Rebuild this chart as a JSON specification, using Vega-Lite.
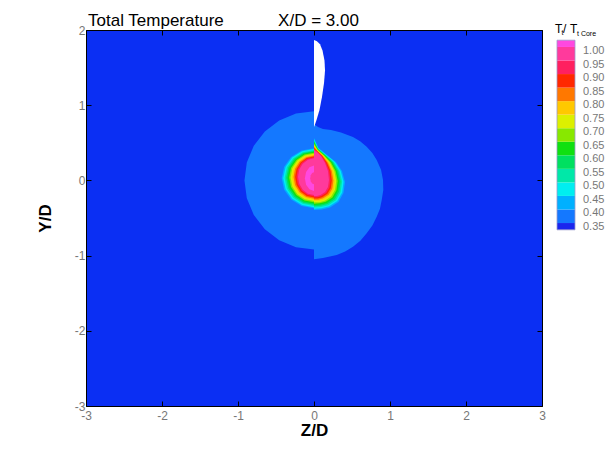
{
"$schema": "https://vega.github.io/schema/vega-lite/v6.json",
"width": 456, "height": 376,
"autosize": {"type": "none"},
"padding": {"left": 86, "top": 30, "right": 69, "bottom": 47},
"background": "#ffffff",
"title": {"text": "Total Temperature", "anchor": "start", "frame": "group", "dx": 2, "offset": -19, "fontSize": 17, "fontWeight": "normal", "font": "Liberation Sans", "color": "#000"},
"datasets": {
"contours": [
{"p":"p01","b":"0.35","i":0,"z":0,"y":0.92},{"p":"p01","b":"0.35","i":1,"z":-0.237,"y":0.889},{"p":"p01","b":"0.35","i":2,"z":-0.458,"y":0.797},{"p":"p01","b":"0.35","i":3,"z":-0.647,"y":0.651},{"p":"p01","b":"0.35","i":4,"z":-0.792,"y":0.46},{"p":"p01","b":"0.35","i":5,"z":-0.884,"y":0.238},{"p":"p01","b":"0.35","i":6,"z":-0.915,"y":0},{"p":"p01","b":"0.35","i":7,"z":-0.884,"y":-0.238},{"p":"p01","b":"0.35","i":8,"z":-0.792,"y":-0.46},{"p":"p01","b":"0.35","i":9,"z":-0.647,"y":-0.651},{"p":"p01","b":"0.35","i":10,"z":-0.458,"y":-0.797},{"p":"p01","b":"0.35","i":11,"z":-0.237,"y":-0.889},{"p":"p01","b":"0.35","i":12,"z":0,"y":-0.92},{"p":"p01","b":"0.35","i":13,"z":0,"y":-1.049},{"p":"p01","b":"0.35","i":14,"z":0.118,"y":-1.032},{"p":"p01","b":"0.35","i":15,"z":0.299,"y":-0.992},{"p":"p01","b":"0.35","i":16,"z":0.41,"y":-0.947},{"p":"p01","b":"0.35","i":17,"z":0.513,"y":-0.882},{"p":"p01","b":"0.35","i":18,"z":0.61,"y":-0.802},{"p":"p01","b":"0.35","i":19,"z":0.693,"y":-0.703},{"p":"p01","b":"0.35","i":20,"z":0.768,"y":-0.6},{"p":"p01","b":"0.35","i":21,"z":0.825,"y":-0.483},{"p":"p01","b":"0.35","i":22,"z":0.868,"y":-0.376},{"p":"p01","b":"0.35","i":23,"z":0.891,"y":-0.261},{"p":"p01","b":"0.35","i":24,"z":0.912,"y":-0.128},{"p":"p01","b":"0.35","i":25,"z":0.908,"y":0.005},{"p":"p01","b":"0.35","i":26,"z":0.882,"y":0.142},{"p":"p01","b":"0.35","i":27,"z":0.825,"y":0.271},{"p":"p01","b":"0.35","i":28,"z":0.768,"y":0.366},{"p":"p01","b":"0.35","i":29,"z":0.693,"y":0.448},{"p":"p01","b":"0.35","i":30,"z":0.607,"y":0.522},{"p":"p01","b":"0.35","i":31,"z":0.513,"y":0.577},{"p":"p01","b":"0.35","i":32,"z":0.355,"y":0.637},{"p":"p01","b":"0.35","i":33,"z":0.224,"y":0.67},{"p":"p01","b":"0.35","i":34,"z":0.118,"y":0.684},{"p":"p01","b":"0.35","i":35,"z":0.053,"y":0.71},{"p":"p01","b":"0.35","i":36,"z":0,"y":0.75},

{"p":"p02","b":"0.40","i":0,"z":0,"y":0.428},{"p":"p02","b":"0.40","i":1,"z":-0.163,"y":0.398},{"p":"p02","b":"0.40","i":2,"z":-0.301,"y":0.311},{"p":"p02","b":"0.40","i":3,"z":-0.393,"y":0.181},{"p":"p02","b":"0.40","i":4,"z":-0.425,"y":0.028},{"p":"p02","b":"0.40","i":5,"z":-0.393,"y":-0.125},{"p":"p02","b":"0.40","i":6,"z":-0.301,"y":-0.255},{"p":"p02","b":"0.40","i":7,"z":-0.163,"y":-0.342},{"p":"p02","b":"0.40","i":8,"z":0,"y":-0.372},{"p":"p02","b":"0.40","i":9,"z":0,"y":-0.394},{"p":"p02","b":"0.40","i":10,"z":0.105,"y":-0.387},{"p":"p02","b":"0.40","i":11,"z":0.211,"y":-0.36},{"p":"p02","b":"0.40","i":12,"z":0.322,"y":-0.287},{"p":"p02","b":"0.40","i":13,"z":0.388,"y":-0.168},{"p":"p02","b":"0.40","i":14,"z":0.408,"y":-0.021},{"p":"p02","b":"0.40","i":15,"z":0.368,"y":0.125},{"p":"p02","b":"0.40","i":16,"z":0.289,"y":0.245},{"p":"p02","b":"0.40","i":17,"z":0.171,"y":0.338},{"p":"p02","b":"0.40","i":18,"z":0.059,"y":0.431},{"p":"p02","b":"0.40","i":19,"z":0,"y":0.564},

{"p":"p03","b":"0.45","i":0,"z":0,"y":0.416},{"p":"p03","b":"0.45","i":1,"z":-0.155,"y":0.387},{"p":"p03","b":"0.45","i":2,"z":-0.286,"y":0.303},{"p":"p03","b":"0.45","i":3,"z":-0.374,"y":0.178},{"p":"p03","b":"0.45","i":4,"z":-0.405,"y":0.03},{"p":"p03","b":"0.45","i":5,"z":-0.374,"y":-0.118},{"p":"p03","b":"0.45","i":6,"z":-0.286,"y":-0.243},{"p":"p03","b":"0.45","i":7,"z":-0.155,"y":-0.327},{"p":"p03","b":"0.45","i":8,"z":0,"y":-0.356},{"p":"p03","b":"0.45","i":9,"z":0,"y":-0.377},{"p":"p03","b":"0.45","i":10,"z":0.099,"y":-0.371},{"p":"p03","b":"0.45","i":11,"z":0.2,"y":-0.345},{"p":"p03","b":"0.45","i":12,"z":0.306,"y":-0.275},{"p":"p03","b":"0.45","i":13,"z":0.37,"y":-0.161},{"p":"p03","b":"0.45","i":14,"z":0.389,"y":-0.019},{"p":"p03","b":"0.45","i":15,"z":0.351,"y":0.125},{"p":"p03","b":"0.45","i":16,"z":0.276,"y":0.244},{"p":"p03","b":"0.45","i":17,"z":0.164,"y":0.337},{"p":"p03","b":"0.45","i":18,"z":0.057,"y":0.426},{"p":"p03","b":"0.45","i":19,"z":0,"y":0.549},

{"p":"p04","b":"0.50","i":0,"z":0,"y":0.404},{"p":"p04","b":"0.50","i":1,"z":-0.148,"y":0.376},{"p":"p04","b":"0.50","i":2,"z":-0.273,"y":0.295},{"p":"p04","b":"0.50","i":3,"z":-0.357,"y":0.174},{"p":"p04","b":"0.50","i":4,"z":-0.386,"y":0.032},{"p":"p04","b":"0.50","i":5,"z":-0.357,"y":-0.11},{"p":"p04","b":"0.50","i":6,"z":-0.273,"y":-0.231},{"p":"p04","b":"0.50","i":7,"z":-0.148,"y":-0.312},{"p":"p04","b":"0.50","i":8,"z":0,"y":-0.34},{"p":"p04","b":"0.50","i":9,"z":0,"y":-0.36},{"p":"p04","b":"0.50","i":10,"z":0.093,"y":-0.354},{"p":"p04","b":"0.50","i":11,"z":0.188,"y":-0.33},{"p":"p04","b":"0.50","i":12,"z":0.29,"y":-0.263},{"p":"p04","b":"0.50","i":13,"z":0.351,"y":-0.153},{"p":"p04","b":"0.50","i":14,"z":0.37,"y":-0.016},{"p":"p04","b":"0.50","i":15,"z":0.335,"y":0.125},{"p":"p04","b":"0.50","i":16,"z":0.263,"y":0.242},{"p":"p04","b":"0.50","i":17,"z":0.157,"y":0.335},{"p":"p04","b":"0.50","i":18,"z":0.055,"y":0.421},{"p":"p04","b":"0.50","i":19,"z":0,"y":0.535},

{"p":"p05","b":"0.55","i":0,"z":0,"y":0.392},{"p":"p05","b":"0.55","i":1,"z":-0.14,"y":0.365},{"p":"p05","b":"0.55","i":2,"z":-0.259,"y":0.287},{"p":"p05","b":"0.55","i":3,"z":-0.338,"y":0.171},{"p":"p05","b":"0.55","i":4,"z":-0.366,"y":0.034},{"p":"p05","b":"0.55","i":5,"z":-0.338,"y":-0.103},{"p":"p05","b":"0.55","i":6,"z":-0.259,"y":-0.219},{"p":"p05","b":"0.55","i":7,"z":-0.14,"y":-0.297},{"p":"p05","b":"0.55","i":8,"z":0,"y":-0.324},{"p":"p05","b":"0.55","i":9,"z":0,"y":-0.343},{"p":"p05","b":"0.55","i":10,"z":0.087,"y":-0.338},{"p":"p05","b":"0.55","i":11,"z":0.177,"y":-0.315},{"p":"p05","b":"0.55","i":12,"z":0.274,"y":-0.251},{"p":"p05","b":"0.55","i":13,"z":0.332,"y":-0.146},{"p":"p05","b":"0.55","i":14,"z":0.351,"y":-0.014},{"p":"p05","b":"0.55","i":15,"z":0.318,"y":0.125},{"p":"p05","b":"0.55","i":16,"z":0.25,"y":0.241},{"p":"p05","b":"0.55","i":17,"z":0.15,"y":0.334},{"p":"p05","b":"0.55","i":18,"z":0.054,"y":0.417},{"p":"p05","b":"0.55","i":19,"z":0,"y":0.52},

{"p":"p06","b":"0.60","i":0,"z":0,"y":0.38},{"p":"p06","b":"0.60","i":1,"z":-0.133,"y":0.354},{"p":"p06","b":"0.60","i":2,"z":-0.245,"y":0.279},{"p":"p06","b":"0.60","i":3,"z":-0.321,"y":0.168},{"p":"p06","b":"0.60","i":4,"z":-0.347,"y":0.036},{"p":"p06","b":"0.60","i":5,"z":-0.321,"y":-0.096},{"p":"p06","b":"0.60","i":6,"z":-0.245,"y":-0.207},{"p":"p06","b":"0.60","i":7,"z":-0.133,"y":-0.282},{"p":"p06","b":"0.60","i":8,"z":0,"y":-0.308},{"p":"p06","b":"0.60","i":9,"z":0,"y":-0.326},{"p":"p06","b":"0.60","i":10,"z":0.081,"y":-0.322},{"p":"p06","b":"0.60","i":11,"z":0.166,"y":-0.3},{"p":"p06","b":"0.60","i":12,"z":0.258,"y":-0.239},{"p":"p06","b":"0.60","i":13,"z":0.314,"y":-0.139},{"p":"p06","b":"0.60","i":14,"z":0.331,"y":-0.012},{"p":"p06","b":"0.60","i":15,"z":0.301,"y":0.125},{"p":"p06","b":"0.60","i":16,"z":0.237,"y":0.24},{"p":"p06","b":"0.60","i":17,"z":0.142,"y":0.333},{"p":"p06","b":"0.60","i":18,"z":0.052,"y":0.412},{"p":"p06","b":"0.60","i":19,"z":0,"y":0.506},

{"p":"p07","b":"0.65","i":0,"z":0,"y":0.368},{"p":"p07","b":"0.65","i":1,"z":-0.125,"y":0.343},{"p":"p07","b":"0.65","i":2,"z":-0.231,"y":0.271},{"p":"p07","b":"0.65","i":3,"z":-0.302,"y":0.164},{"p":"p07","b":"0.65","i":4,"z":-0.327,"y":0.038},{"p":"p07","b":"0.65","i":5,"z":-0.302,"y":-0.088},{"p":"p07","b":"0.65","i":6,"z":-0.231,"y":-0.195},{"p":"p07","b":"0.65","i":7,"z":-0.125,"y":-0.267},{"p":"p07","b":"0.65","i":8,"z":0,"y":-0.292},{"p":"p07","b":"0.65","i":9,"z":0,"y":-0.309},{"p":"p07","b":"0.65","i":10,"z":0.075,"y":-0.305},{"p":"p07","b":"0.65","i":11,"z":0.154,"y":-0.285},{"p":"p07","b":"0.65","i":12,"z":0.242,"y":-0.227},{"p":"p07","b":"0.65","i":13,"z":0.295,"y":-0.132},{"p":"p07","b":"0.65","i":14,"z":0.312,"y":-0.009},{"p":"p07","b":"0.65","i":15,"z":0.284,"y":0.125},{"p":"p07","b":"0.65","i":16,"z":0.224,"y":0.239},{"p":"p07","b":"0.65","i":17,"z":0.135,"y":0.332},{"p":"p07","b":"0.65","i":18,"z":0.05,"y":0.407},{"p":"p07","b":"0.65","i":19,"z":0,"y":0.491},

{"p":"p08","b":"0.70","i":0,"z":0,"y":0.355},{"p":"p08","b":"0.70","i":1,"z":-0.118,"y":0.331},{"p":"p08","b":"0.70","i":2,"z":-0.218,"y":0.263},{"p":"p08","b":"0.70","i":3,"z":-0.285,"y":0.161},{"p":"p08","b":"0.70","i":4,"z":-0.308,"y":0.04},{"p":"p08","b":"0.70","i":5,"z":-0.285,"y":-0.081},{"p":"p08","b":"0.70","i":6,"z":-0.218,"y":-0.183},{"p":"p08","b":"0.70","i":7,"z":-0.118,"y":-0.251},{"p":"p08","b":"0.70","i":8,"z":0,"y":-0.275},{"p":"p08","b":"0.70","i":9,"z":0,"y":-0.292},{"p":"p08","b":"0.70","i":10,"z":0.069,"y":-0.289},{"p":"p08","b":"0.70","i":11,"z":0.143,"y":-0.269},{"p":"p08","b":"0.70","i":12,"z":0.225,"y":-0.214},{"p":"p08","b":"0.70","i":13,"z":0.277,"y":-0.124},{"p":"p08","b":"0.70","i":14,"z":0.293,"y":-0.007},{"p":"p08","b":"0.70","i":15,"z":0.268,"y":0.125},{"p":"p08","b":"0.70","i":16,"z":0.21,"y":0.237},{"p":"p08","b":"0.70","i":17,"z":0.128,"y":0.33},{"p":"p08","b":"0.70","i":18,"z":0.048,"y":0.402},{"p":"p08","b":"0.70","i":19,"z":0,"y":0.477},

{"p":"p09","b":"0.75","i":0,"z":0,"y":0.343},{"p":"p09","b":"0.75","i":1,"z":-0.11,"y":0.32},{"p":"p09","b":"0.75","i":2,"z":-0.204,"y":0.255},{"p":"p09","b":"0.75","i":3,"z":-0.266,"y":0.157},{"p":"p09","b":"0.75","i":4,"z":-0.288,"y":0.042},{"p":"p09","b":"0.75","i":5,"z":-0.266,"y":-0.073},{"p":"p09","b":"0.75","i":6,"z":-0.204,"y":-0.171},{"p":"p09","b":"0.75","i":7,"z":-0.11,"y":-0.236},{"p":"p09","b":"0.75","i":8,"z":0,"y":-0.259},{"p":"p09","b":"0.75","i":9,"z":0,"y":-0.275},{"p":"p09","b":"0.75","i":10,"z":0.063,"y":-0.272},{"p":"p09","b":"0.75","i":11,"z":0.131,"y":-0.254},{"p":"p09","b":"0.75","i":12,"z":0.209,"y":-0.202},{"p":"p09","b":"0.75","i":13,"z":0.258,"y":-0.117},{"p":"p09","b":"0.75","i":14,"z":0.274,"y":-0.005},{"p":"p09","b":"0.75","i":15,"z":0.251,"y":0.125},{"p":"p09","b":"0.75","i":16,"z":0.197,"y":0.236},{"p":"p09","b":"0.75","i":17,"z":0.121,"y":0.329},{"p":"p09","b":"0.75","i":18,"z":0.046,"y":0.397},{"p":"p09","b":"0.75","i":19,"z":0,"y":0.462},

{"p":"p10","b":"0.80","i":0,"z":0,"y":0.331},{"p":"p10","b":"0.80","i":1,"z":-0.103,"y":0.309},{"p":"p10","b":"0.80","i":2,"z":-0.19,"y":0.247},{"p":"p10","b":"0.80","i":3,"z":-0.249,"y":0.154},{"p":"p10","b":"0.80","i":4,"z":-0.269,"y":0.044},{"p":"p10","b":"0.80","i":5,"z":-0.249,"y":-0.066},{"p":"p10","b":"0.80","i":6,"z":-0.19,"y":-0.159},{"p":"p10","b":"0.80","i":7,"z":-0.103,"y":-0.221},{"p":"p10","b":"0.80","i":8,"z":0,"y":-0.243},{"p":"p10","b":"0.80","i":9,"z":0,"y":-0.258},{"p":"p10","b":"0.80","i":10,"z":0.057,"y":-0.256},{"p":"p10","b":"0.80","i":11,"z":0.12,"y":-0.239},{"p":"p10","b":"0.80","i":12,"z":0.193,"y":-0.19},{"p":"p10","b":"0.80","i":13,"z":0.24,"y":-0.11},{"p":"p10","b":"0.80","i":14,"z":0.255,"y":-0.002},{"p":"p10","b":"0.80","i":15,"z":0.234,"y":0.125},{"p":"p10","b":"0.80","i":16,"z":0.184,"y":0.235},{"p":"p10","b":"0.80","i":17,"z":0.114,"y":0.328},{"p":"p10","b":"0.80","i":18,"z":0.045,"y":0.392},{"p":"p10","b":"0.80","i":19,"z":0,"y":0.448},

{"p":"p11","b":"0.85","i":0,"z":0,"y":0.319},{"p":"p11","b":"0.85","i":1,"z":-0.095,"y":0.298},{"p":"p11","b":"0.85","i":2,"z":-0.176,"y":0.239},{"p":"p11","b":"0.85","i":3,"z":-0.23,"y":0.15},{"p":"p11","b":"0.85","i":4,"z":-0.249,"y":0.046},{"p":"p11","b":"0.85","i":5,"z":-0.23,"y":-0.058},{"p":"p11","b":"0.85","i":6,"z":-0.176,"y":-0.147},{"p":"p11","b":"0.85","i":7,"z":-0.095,"y":-0.206},{"p":"p11","b":"0.85","i":8,"z":0,"y":-0.227},{"p":"p11","b":"0.85","i":9,"z":0,"y":-0.241},{"p":"p11","b":"0.85","i":10,"z":0.051,"y":-0.24},{"p":"p11","b":"0.85","i":11,"z":0.109,"y":-0.224},{"p":"p11","b":"0.85","i":12,"z":0.177,"y":-0.178},{"p":"p11","b":"0.85","i":13,"z":0.221,"y":-0.103},{"p":"p11","b":"0.85","i":14,"z":0.235,"y":0},{"p":"p11","b":"0.85","i":15,"z":0.218,"y":0.125},{"p":"p11","b":"0.85","i":16,"z":0.171,"y":0.234},{"p":"p11","b":"0.85","i":17,"z":0.106,"y":0.327},{"p":"p11","b":"0.85","i":18,"z":0.043,"y":0.388},{"p":"p11","b":"0.85","i":19,"z":0,"y":0.433},

{"p":"p12","b":"0.90","i":0,"z":0,"y":0.307},{"p":"p12","b":"0.90","i":1,"z":-0.088,"y":0.287},{"p":"p12","b":"0.90","i":2,"z":-0.163,"y":0.231},{"p":"p12","b":"0.90","i":3,"z":-0.212,"y":0.147},{"p":"p12","b":"0.90","i":4,"z":-0.23,"y":0.048},{"p":"p12","b":"0.90","i":5,"z":-0.212,"y":-0.051},{"p":"p12","b":"0.90","i":6,"z":-0.163,"y":-0.135},{"p":"p12","b":"0.90","i":7,"z":-0.088,"y":-0.191},{"p":"p12","b":"0.90","i":8,"z":0,"y":-0.211},{"p":"p12","b":"0.90","i":9,"z":0,"y":-0.224},{"p":"p12","b":"0.90","i":10,"z":0.045,"y":-0.223},{"p":"p12","b":"0.90","i":11,"z":0.097,"y":-0.209},{"p":"p12","b":"0.90","i":12,"z":0.161,"y":-0.166},{"p":"p12","b":"0.90","i":13,"z":0.203,"y":-0.095},{"p":"p12","b":"0.90","i":14,"z":0.216,"y":0.003},{"p":"p12","b":"0.90","i":15,"z":0.201,"y":0.125},{"p":"p12","b":"0.90","i":16,"z":0.158,"y":0.232},{"p":"p12","b":"0.90","i":17,"z":0.099,"y":0.325},{"p":"p12","b":"0.90","i":18,"z":0.041,"y":0.383},{"p":"p12","b":"0.90","i":19,"z":0,"y":0.419},

{"p":"p13","b":"0.95","i":0,"z":0,"y":0.295},{"p":"p13","b":"0.95","i":1,"z":-0.08,"y":0.276},{"p":"p13","b":"0.95","i":2,"z":-0.148,"y":0.223},{"p":"p13","b":"0.95","i":3,"z":-0.194,"y":0.144},{"p":"p13","b":"0.95","i":4,"z":-0.21,"y":0.05},{"p":"p13","b":"0.95","i":5,"z":-0.194,"y":-0.044},{"p":"p13","b":"0.95","i":6,"z":-0.148,"y":-0.123},{"p":"p13","b":"0.95","i":7,"z":-0.08,"y":-0.176},{"p":"p13","b":"0.95","i":8,"z":0,"y":-0.195},{"p":"p13","b":"0.95","i":9,"z":0,"y":-0.207},{"p":"p13","b":"0.95","i":10,"z":0.039,"y":-0.207},{"p":"p13","b":"0.95","i":11,"z":0.086,"y":-0.194},{"p":"p13","b":"0.95","i":12,"z":0.145,"y":-0.154},{"p":"p13","b":"0.95","i":13,"z":0.184,"y":-0.088},{"p":"p13","b":"0.95","i":14,"z":0.197,"y":0.005},{"p":"p13","b":"0.95","i":15,"z":0.184,"y":0.125},{"p":"p13","b":"0.95","i":16,"z":0.145,"y":0.231},{"p":"p13","b":"0.95","i":17,"z":0.092,"y":0.324},{"p":"p13","b":"0.95","i":18,"z":0.039,"y":0.378},{"p":"p13","b":"0.95","i":19,"z":0,"y":0.404},

{"p":"p14","b":"1.00","i":0,"z":0,"y":0.198},{"p":"p14","b":"1.00","i":1,"z":-0.06,"y":0.175},{"p":"p14","b":"1.00","i":2,"z":-0.104,"y":0.113},{"p":"p14","b":"1.00","i":3,"z":-0.12,"y":0.028},{"p":"p14","b":"1.00","i":4,"z":-0.104,"y":-0.057},{"p":"p14","b":"1.00","i":5,"z":-0.06,"y":-0.119},{"p":"p14","b":"1.00","i":6,"z":0,"y":-0.142},

{"p":"p15","b":"0.95","i":0,"z":0,"y":0.108},{"p":"p15","b":"0.95","i":1,"z":-0.025,"y":0.097},{"p":"p15","b":"0.95","i":2,"z":-0.043,"y":0.068},{"p":"p15","b":"0.95","i":3,"z":-0.05,"y":0.028},{"p":"p15","b":"0.95","i":4,"z":-0.043,"y":-0.012},{"p":"p15","b":"0.95","i":5,"z":-0.025,"y":-0.041},{"p":"p15","b":"0.95","i":6,"z":0,"y":-0.052}
],
"wedge": [
{"i":0,"z":0,"y":1.866},{"i":1,"z":0.039,"y":1.852},{"i":2,"z":0.079,"y":1.812},{"i":3,"z":0.112,"y":1.726},{"i":4,"z":0.138,"y":1.593},{"i":5,"z":0.145,"y":1.46},{"i":6,"z":0.132,"y":1.295},{"i":7,"z":0.105,"y":1.109},{"i":8,"z":0.072,"y":0.936},{"i":9,"z":0.033,"y":0.803},{"i":10,"z":0.004,"y":0.717},{"i":11,"z":0,"y":0.717}
],
"bar": [
{"lo":0.325,"hi":0.35,"b":"0.30"},{"lo":0.35,"hi":0.40,"b":"0.35"},{"lo":0.40,"hi":0.45,"b":"0.40"},{"lo":0.45,"hi":0.50,"b":"0.45"},{"lo":0.50,"hi":0.55,"b":"0.50"},{"lo":0.55,"hi":0.60,"b":"0.55"},{"lo":0.60,"hi":0.65,"b":"0.60"},{"lo":0.65,"hi":0.70,"b":"0.65"},{"lo":0.70,"hi":0.75,"b":"0.70"},{"lo":0.75,"hi":0.80,"b":"0.75"},{"lo":0.80,"hi":0.85,"b":"0.80"},{"lo":0.85,"hi":0.90,"b":"0.85"},{"lo":0.90,"hi":0.95,"b":"0.90"},{"lo":0.95,"hi":1.00,"b":"0.95"},{"lo":1.00,"hi":1.025,"b":"1.00"}
],
"levels": [
{"v":1.00,"t":"1.00"},{"v":0.95,"t":"0.95"},{"v":0.90,"t":"0.90"},{"v":0.85,"t":"0.85"},{"v":0.80,"t":"0.80"},{"v":0.75,"t":"0.75"},{"v":0.70,"t":"0.70"},{"v":0.65,"t":"0.65"},{"v":0.60,"t":"0.60"},{"v":0.55,"t":"0.55"},{"v":0.50,"t":"0.50"},{"v":0.45,"t":"0.45"},{"v":0.40,"t":"0.40"},{"v":0.35,"t":"0.35"}
]
},
"layer": [
{
 "layer": [
  {
   "data": {"name": "contours"},
   "mark": {"type": "line", "filled": true, "interpolate": "linear"},
   "encoding": {
    "x": {"field": "z", "type": "quantitative", "scale": {"domain": [-3, 3], "nice": false, "zero": false},
      "axis": {"orient": "bottom", "values": [-3,-2,-1,0,1,2,3], "labelExpr": "'' + datum.value", "labelFlush": false, "title": "Z/D", "titleFontSize": 17, "titleFontWeight": "bold", "titleY": 24, "titleBaseline": "middle", "labelPadding": 9}},
    "y": {"field": "y", "type": "quantitative", "scale": {"domain": [-3, 2], "nice": false, "zero": false},
      "axis": {"orient": "left", "values": [-3,-2,-1,0,1,2], "labelExpr": "'' + datum.value", "labelFlush": false, "title": "Y/D", "titleFontSize": 17, "titleFontWeight": "bold", "titleX": -41, "titleY": 188, "titleAngle": 270, "titleBaseline": "middle", "titleAlign": "center", "labelPadding": 6}},
    "fill": {"field": "b", "type": "nominal",
      "scale": {"domain": ["0.30","0.35","0.40","0.45","0.50","0.55","0.60","0.65","0.70","0.75","0.80","0.85","0.90","0.95","1.00"],
                "range": ["#1a26ee","#1478ff","#00b0ff","#00eef0","#00e8a8","#00e060","#10e010","#88e800","#dcf000","#ffc800","#ff7800","#ff2800","#ff2060","#ff3a9c","#ff48e0"]},
      "legend": null},
    "detail": {"field": "p", "type": "nominal"},
    "order": {"field": "i", "type": "quantitative"}
   }
  },
  {
   "data": {"name": "wedge"},
   "mark": {"type": "line", "filled": true, "fill": "#ffffff", "interpolate": "linear"},
   "encoding": {
    "x": {"field": "z", "type": "quantitative", "scale": {"domain": [-3, 3], "nice": false, "zero": false},
      "axis": {"orient": "top", "values": [-3,-2,-1,0,1,2,3], "labels": false, "title": "X/D = 3.00", "titleFontSize": 17, "titleFontWeight": "normal", "titleX": 232, "titleY": -5, "titleAngle": 0, "titleBaseline": "alphabetic", "titleAlign": "center"}},
    "y": {"field": "y", "type": "quantitative", "scale": {"domain": [-3, 2], "nice": false, "zero": false},
      "axis": {"orient": "right", "values": [-3,-2,-1,0,1,2], "labels": false, "title": null}},
    "order": {"field": "i", "type": "quantitative"}
   }
  }
 ],
 "resolve": {"axis": {"x": "independent", "y": "independent"}}
},
{
 "layer": [
  {
   "data": {"name": "bar"},
   "mark": {"type": "rect"},
   "encoding": {
    "x": {"datum": 0, "type": "quantitative", "scale": {"domain": [0, 1], "range": [471, 489]}, "axis": null},
    "x2": {"datum": 1},
    "y": {"field": "lo", "type": "quantitative", "scale": {"domain": [0.325, 1.025], "range": [199.8, 10.2], "zero": false, "nice": false}, "axis": null},
    "y2": {"field": "hi"},
    "fill": {"field": "b", "type": "nominal", "legend": null}
   }
  },
  {
   "data": {"values": [{}]},
   "mark": {"type": "rect", "fill": null, "stroke": "#9a9acc", "strokeWidth": 0.8},
   "encoding": {
    "x": {"datum": 0, "type": "quantitative"}, "x2": {"datum": 1},
    "y": {"datum": 0.325, "type": "quantitative"}, "y2": {"datum": 1.025}
   }
  },
  {
   "data": {"name": "levels"},
   "mark": {"type": "text", "align": "left", "baseline": "middle", "dx": 8, "dy": 4, "fontSize": 11, "font": "Liberation Sans", "color": "#777"},
   "encoding": {
    "x": {"datum": 1, "type": "quantitative"},
    "y": {"field": "v", "type": "quantitative"},
    "text": {"field": "t"}
   }
  },
  {
   "data": {"values": [{}]},
   "mark": {"type": "text", "text": "T", "align": "left", "baseline": "alphabetic", "dx": -2, "fontSize": 12, "font": "Liberation Sans", "color": "#000"},
   "encoding": {"x": {"datum": 0, "type": "quantitative"}, "y": {"datum": 1.0516, "type": "quantitative"}}
  },
  {
   "data": {"values": [{}]},
   "mark": {"type": "text", "text": "t", "align": "left", "baseline": "alphabetic", "dx": 4.5, "dy": 2, "fontSize": 7, "font": "Liberation Sans", "color": "#000"},
   "encoding": {"x": {"datum": 0, "type": "quantitative"}, "y": {"datum": 1.0516, "type": "quantitative"}}
  },
  {
   "data": {"values": [{}]},
   "mark": {"type": "text", "text": "/", "align": "left", "baseline": "alphabetic", "dx": 6, "fontSize": 12, "font": "Liberation Sans", "color": "#000"},
   "encoding": {"x": {"datum": 0, "type": "quantitative"}, "y": {"datum": 1.0516, "type": "quantitative"}}
  },
  {
   "data": {"values": [{}]},
   "mark": {"type": "text", "text": "T", "align": "left", "baseline": "alphabetic", "dx": 13, "fontSize": 12, "font": "Liberation Sans", "color": "#000"},
   "encoding": {"x": {"datum": 0, "type": "quantitative"}, "y": {"datum": 1.0516, "type": "quantitative"}}
  },
  {
   "data": {"values": [{}]},
   "mark": {"type": "text", "text": "t Core", "align": "left", "baseline": "alphabetic", "dx": 20, "dy": 3, "fontSize": 7, "font": "Liberation Sans", "color": "#000"},
   "encoding": {"x": {"datum": 0, "type": "quantitative"}, "y": {"datum": 1.0516, "type": "quantitative"}}
  }
 ]
}
],
"resolve": {"scale": {"x": "independent", "y": "independent"}},
"config": {
 "view": {"stroke": "#000", "strokeWidth": 1, "fill": "#0b2ff3"},
 "axis": {"grid": false, "domain": false, "tickColor": "#000", "tickSize": -5, "tickWidth": 1, "labelFont": "Liberation Sans", "labelFontSize": 12, "labelColor": "#777", "titleFont": "Liberation Sans", "titleColor": "#000"},
 "text": {"font": "Liberation Sans"}
}
}
